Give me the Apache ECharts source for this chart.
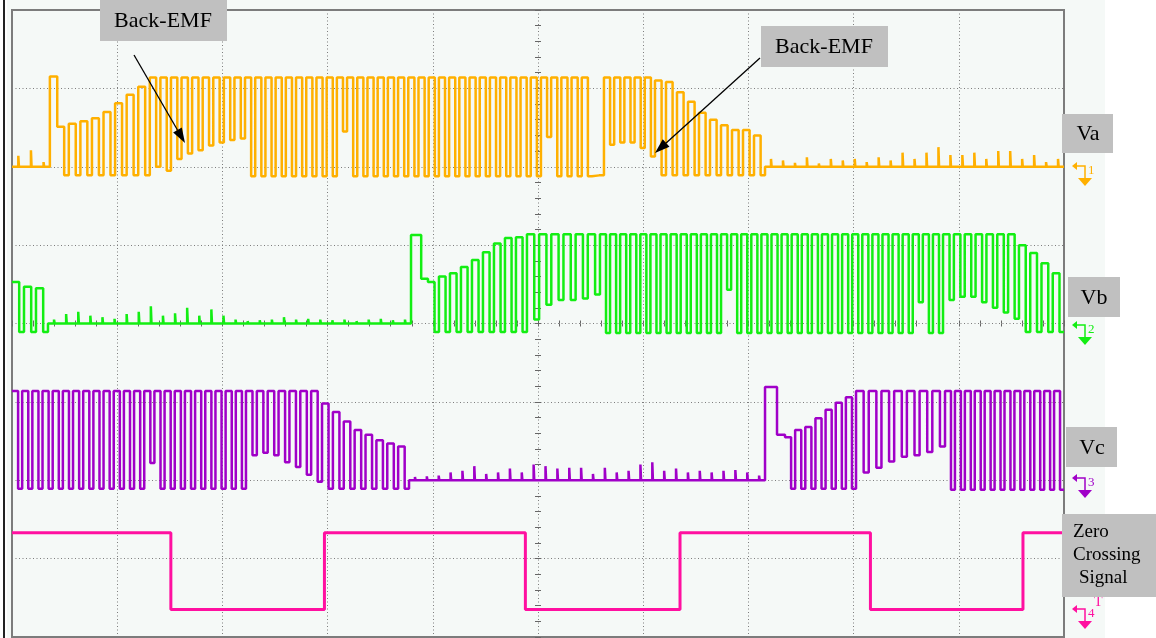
<!DOCTYPE html>
<html><head><meta charset="utf-8">
<script src="https://cdn.jsdelivr.net/npm/echarts@6/dist/echarts.min.js"></script>
<style>
html,body{margin:0;padding:0;background:#fff;width:1156px;height:638px;overflow:hidden}
#bg{position:absolute;left:7px;top:0;width:1098px;height:638px;background:#f5f9f7}
#edge{position:absolute;left:3px;top:0;width:2px;height:638px;background:#222}
#chart{position:absolute;left:0;top:0;width:1156px;height:638px}
</style></head><body>
<div id="bg"></div><div id="edge"></div><div id="chart"></div>
<script>
// ---------- DATA (time in screen divisions 0..10, voltage in vertical divisions) ----------
const DUTY = 0.6;          // fraction of a PWM period spent at the first level
const PWM_HIGH = 1.14;     // driven high level (div above channel ground)
const PWM_LOW = -0.11;     // driven low level

// Channel ground positions (div from bottom)
const vaGround = 6, vbGround = 4, vcGround = 2;

// ---- Va ----
const vaBreaks = [0, 0.36, 0.43, 1.31, 2.215, 5.513, 5.627, 6.112, 7.158, 10];
const vaIdleSpikes1 = [0.14, 0.21, 0.06];
const vaRiseTops = [0.51, 0.55, 0.58, 0.62, 0.70, 0.81, 0.92, 1.02];
const vaRiseDips = [0.00, -0.05, 0.10, 0.17, 0.21, 0.27, 0.31, 0.34, 0.36];
const vaFullDips = [-0.12,-0.12,-0.12,-0.12,-0.12,-0.12,-0.12,-0.12,-0.12,0.45,
                    -0.12,-0.12,-0.12,-0.12,-0.12,-0.12,-0.12,-0.12,-0.12,-0.12,
                    -0.12,-0.12,-0.12,-0.12,-0.12,-0.12,-0.12,-0.12,-0.12,0.38,
                    -0.12,-0.12,-0.12,-0.12];
const vaFallDips = [0.28, 0.31, 0.31, 0.24, 0.13];
const vaFallTops = [1.10, 1.08, 0.95, 0.83, 0.69, 0.60, 0.53, 0.47, 0.47, 0.40];
const vaIdleSpikes2 = [0.10,0.08,0.05,0.12,0.04,0.10,0.08,0.10,0.06,0.12,0.08,0.18,0.10,
                       0.18,0.25,0.15,0.15,0.18,0.10,0.20,0.20,0.10,0.15,0.06,0.10];

// ---- Vb ----
const vbBreaks = [0, 0.342, 3.793, 3.954, 4.895, 5.589, 8.85, 9.572, 10];
const vbFallTopsA = [0.53, 0.47, 0.45];
const vbIdleSpikes = [0.05,0.12,0.15,0.10,0.08,0.06,0.12,0.15,0.22,0.10,0.13,0.20,0.10,0.18,0.10,
                      0.05,0.03,0.04,0.05,0.08,0.05,0.06,0.05,0.04,0.05,0.03,0.05,0.06,0.04,0.05];
const vbStepTop = [1.13], vbStepShelf = [0.57];
const vbRiseTops = [0.53, 0.60, 0.64, 0.72, 0.81, 0.91, 1.02, 1.09, 1.10];
const vbRiseDips = [0.05, 0.24, 0.30, 0.30, 0.32, 0.37];
const vbFullDips = [-0.12,-0.12,-0.12,-0.12,-0.12,-0.12,-0.12,-0.12,-0.12,-0.12,
                    -0.12,-0.12,0.43,-0.12,-0.12,-0.12,-0.12,-0.12,-0.12,-0.12,
                    -0.12,-0.12,-0.12,-0.12,-0.12,-0.12,-0.12,-0.12,-0.12,-0.12,
                    -0.12,0.27,-0.12,-0.12];
const vbFallDips = [0.30, 0.34, 0.34, 0.27, 0.20, 0.14, 0.06];
const vbFallTopsB = [1.00, 0.90, 0.77, 0.64];

// ---- Vc ----
const vcBreaks = [0, 2.224, 2.947, 3.774, 7.158, 7.348, 8.023, 8.869, 10];
const vcFullDipsA = [-0.11,-0.11,-0.11,-0.11,-0.11,-0.11,-0.11,-0.11,-0.11,-0.11,
                     -0.11,-0.11,-0.11,0.22,-0.11,-0.11,-0.11,-0.11,-0.11,-0.11,
                     -0.11,-0.11,-0.11];
const vcFallDips = [0.32, 0.35, 0.32, 0.23, 0.17, 0.07, -0.02];
const vcFallTops = [0.98, 0.87, 0.75, 0.64, 0.58, 0.51, 0.47, 0.43];
const vcIdleSpikes = [0.04,0.05,0.06,0.10,0.12,0.18,0.08,0.10,0.15,0.10,0.20,0.18,0.15,0.16,0.16,
                      0.08,0.16,0.10,0.12,0.20,0.23,0.12,0.15,0.10,0.12,0.10,0.12,0.13,0.10,0.06];
const vcStepTop = [1.19], vcStepShelf = [0.58];
const vcRiseTops = [0.55, 0.64, 0.68, 0.79, 0.90, 0.99, 1.06];
const vcRiseDips = [0.10, 0.16, 0.24, 0.30, 0.32, 0.36, 0.43];
const vcFullDipsB = [-0.12,-0.12,-0.12,-0.12,-0.12,-0.12,-0.12,-0.12,-0.12,-0.12,-0.12,-0.12];

// ---- Zero crossing signal ----
const zcEdges = [0, 1.51, 2.97, 4.88, 6.35, 8.16, 9.61, 10];
const zcLevels = [1.33, 0.35, 1.33, 0.35, 1.33, 0.35, 1.33];

// ---------- build traces ----------
function idle(sp){ return {kind:'idle', spikes:sp}; }
function pwm(hi, lo){ return {kind:'pwm', hi:hi, lo:lo}; }

const vaSections = [idle(vaIdleSpikes1), pwm([1.15],[1.15]), pwm(vaRiseTops, PWM_LOW), pwm(PWM_HIGH, vaRiseDips),
  pwm(PWM_HIGH, vaFullDips), pwm([PWM_LOW],[PWM_LOW]), pwm(PWM_HIGH, vaFallDips), pwm(vaFallTops, PWM_LOW), idle(vaIdleSpikes2)];
const vbSections = [pwm(vbFallTopsA, PWM_LOW), idle(vbIdleSpikes), pwm(vbStepTop, vbStepShelf), pwm(vbRiseTops, PWM_LOW),
  pwm(PWM_HIGH, vbRiseDips), pwm(PWM_HIGH, vbFullDips), pwm(PWM_HIGH, vbFallDips), pwm(vbFallTopsB, PWM_LOW)];
const vcSections = [pwm(PWM_HIGH, vcFullDipsA), pwm(PWM_HIGH, vcFallDips), pwm(vcFallTops, PWM_LOW), idle(vcIdleSpikes),
  pwm(vcStepTop, vcStepShelf), pwm(vcRiseTops, PWM_LOW), pwm(PWM_HIGH, vcRiseDips), pwm(PWM_HIGH, vcFullDipsB)];

function buildTrace(breaks, sections, ground){
  const pts = [];
  sections.forEach(function(s, i){
    const t0 = breaks[i], t1 = breaks[i+1];
    if (s.kind === 'idle'){
      const n = s.spikes.length, p = (t1 - t0) / n;
      pts.push([t0, ground]);
      s.spikes.forEach(function(h, k){
        const t = t0 + (k + 0.5) * p;
        pts.push([t, ground], [t, ground + h], [t + 0.006, ground]);
      });
      pts.push([t1, ground]);
    } else {
      const hiA = Array.isArray(s.hi) ? s.hi : null, loA = Array.isArray(s.lo) ? s.lo : null;
      const n = Math.max(hiA ? hiA.length : 1, loA ? loA.length : 1);
      const p = (t1 - t0) / n;
      for (let k = 0; k < n; k++){
        const hi = hiA ? hiA[k] : s.hi, lo = loA ? loA[k] : s.lo;
        const ts = t0 + k * p, tm = ts + DUTY * p;
        pts.push([ts, ground + hi], [tm, ground + hi], [tm, ground + lo], [ts + p, ground + lo]);
      }
    }
  });
  return pts;
}
function buildSquare(edges, levels){
  const pts = [];
  levels.forEach(function(v, i){ pts.push([edges[i], v], [edges[i+1], v]); });
  return pts;
}

// ---------- decorations ----------
const SERIF = "'Liberation Serif','Times New Roman',serif";
function box(x, y, w, h){ return {type:'rect', shape:{x:x, y:y, width:w, height:h}, style:{fill:'#c0c0c0'}, z:50}; }
function label(x, y, txt, size, align){
  return {type:'text', x:x, y:y, z:51, style:{text:txt, fill:'#000', font:size+'px '+SERIF,
    textAlign:align||'center', textVerticalAlign:'middle', align:align||'center', verticalAlign:'middle'}};
}
function arrow(x1, y1, x2, y2){
  const dx = x2 - x1, dy = y2 - y1, L = Math.sqrt(dx*dx + dy*dy), ux = dx/L, uy = dy/L;
  const bx = x2 - 15*ux, by = y2 - 15*uy, px = -uy*5, py = ux*5;
  return [
    {type:'line', shape:{x1:x1, y1:y1, x2:bx, y2:by}, style:{stroke:'#000', lineWidth:1.3}, z:52},
    {type:'polygon', shape:{points:[[x2,y2],[bx+px,by+py],[bx-px,by-py]]}, style:{fill:'#000'}, z:52}
  ];
}
function marker(y, color, num, trig){
  const els = [
    {type:'polyline', shape:{points:[[1076,y],[1085,y],[1085,y+12]]}, style:{stroke:color, lineWidth:1.5, fill:null}, z:40},
    {type:'polygon', shape:{points:[[1072,y],[1077,y-4],[1077,y+4]]}, style:{fill:color}, z:40},
    {type:'polygon', shape:{points:[[1078,y+12],[1092,y+12],[1085,y+20]]}, style:{fill:color}, z:40},
    {type:'text', x:1088, y:y+5, style:{text:num, fill:color, font:'13px '+SERIF, textAlign:'left', align:'left',
      textVerticalAlign:'middle', verticalAlign:'middle'}, z:40}
  ];
  if (trig) els.push({type:'text', x:1094, y:y-7, style:{text:'T', fill:color, font:'14px '+SERIF,
      textAlign:'left', align:'left', textVerticalAlign:'middle', verticalAlign:'middle'}, z:40});
  return els;
}

const COL_A = '#ffb000', COL_B = '#13ee13', COL_C = '#a000c8', COL_Z = '#ff10a0';

const graphics = [].concat(
  [box(100, 0, 127, 41), label(163, 21, 'Back-EMF', 22)],
  [box(761, 26, 127, 41), label(824, 47, 'Back-EMF', 22)],
  arrow(134, 55, 185, 143),
  arrow(760, 58, 655, 153),
  [box(1062, 114, 51, 39), label(1088, 134, 'Va', 22)],
  [box(1068, 277, 52, 40), label(1094, 298, 'Vb', 22)],
  [box(1066, 427, 51, 40), label(1092, 448, 'Vc', 22)],
  [box(1062, 514, 94, 83), label(1073, 532, 'Zero', 19, 'left'), label(1073, 555, 'Crossing', 19, 'left'), label(1079, 578, 'Signal', 19, 'left')],
  marker(166, COL_A, '1'), marker(325, COL_B, '2'), marker(478, COL_C, '3'), marker(609, COL_Z, '4', true)
);

// ---------- chart ----------
const hidden = {axisLine:{show:false}, axisTick:{show:false}, axisLabel:{show:false}, splitLine:{show:false}};
const dotted = {show:true, lineStyle:{color:'#7d7d7d', width:1, type:[1,2.5]}};
function lineSeries(data, color, width){
  return {type:'line', data:data, xAxisIndex:0, yAxisIndex:0, symbol:'none', showSymbol:false, silent:true,
    clip:true, lineStyle:{color:color, width:width}, itemStyle:{color:color}, z:10};
}

const option = {
  animation:false,
  backgroundColor:'transparent',
  grid:{left:12, top:10, width:1052, height:627, show:true, borderColor:'#7c7c7c', borderWidth:2, backgroundColor:'transparent'},
  xAxis:[
    Object.assign({type:'value', min:0, max:10, interval:1}, hidden, {splitLine:dotted}),
    Object.assign({type:'value', min:0, max:10, interval:0.2}, hidden,
      {axisLine:{show:false, onZero:true, onZeroAxisIndex:1}, axisTick:{show:true, inside:true, length:3, lineStyle:{color:'#666'}}}),
    Object.assign({type:'value', min:0, max:10, interval:0.2}, hidden,
      {axisLine:{show:false, onZero:true, onZeroAxisIndex:1}, axisTick:{show:true, inside:false, length:3, lineStyle:{color:'#666'}}}),
    Object.assign({type:'value', min:-5, max:5, interval:1}, hidden, {axisLine:{show:false, onZero:false}})
  ],
  yAxis:[
    Object.assign({type:'value', min:0, max:8, interval:1}, hidden, {splitLine:dotted}),
    Object.assign({type:'value', min:-4, max:4, interval:1}, hidden, {axisLine:{show:false, onZero:false}}),
    Object.assign({type:'value', min:0, max:8, interval:0.2}, hidden,
      {axisLine:{show:false, onZero:true, onZeroAxisIndex:3}, axisTick:{show:true, inside:true, length:3, lineStyle:{color:'#666'}}}),
    Object.assign({type:'value', min:0, max:8, interval:0.2}, hidden,
      {axisLine:{show:false, onZero:true, onZeroAxisIndex:3}, axisTick:{show:true, inside:false, length:3, lineStyle:{color:'#666'}}})
  ],
  series:[
    lineSeries(buildTrace(vaBreaks, vaSections, vaGround), COL_A, 2.5),
    lineSeries(buildTrace(vbBreaks, vbSections, vbGround), COL_B, 2.5),
    lineSeries(buildTrace(vcBreaks, vcSections, vcGround), COL_C, 2.5),
    lineSeries(buildSquare(zcEdges, zcLevels), COL_Z, 3)
  ],
  graphic:graphics
};
const chart = echarts.init(document.getElementById('chart'), null, {renderer:'canvas'});
chart.setOption(option);
</script></body></html>
